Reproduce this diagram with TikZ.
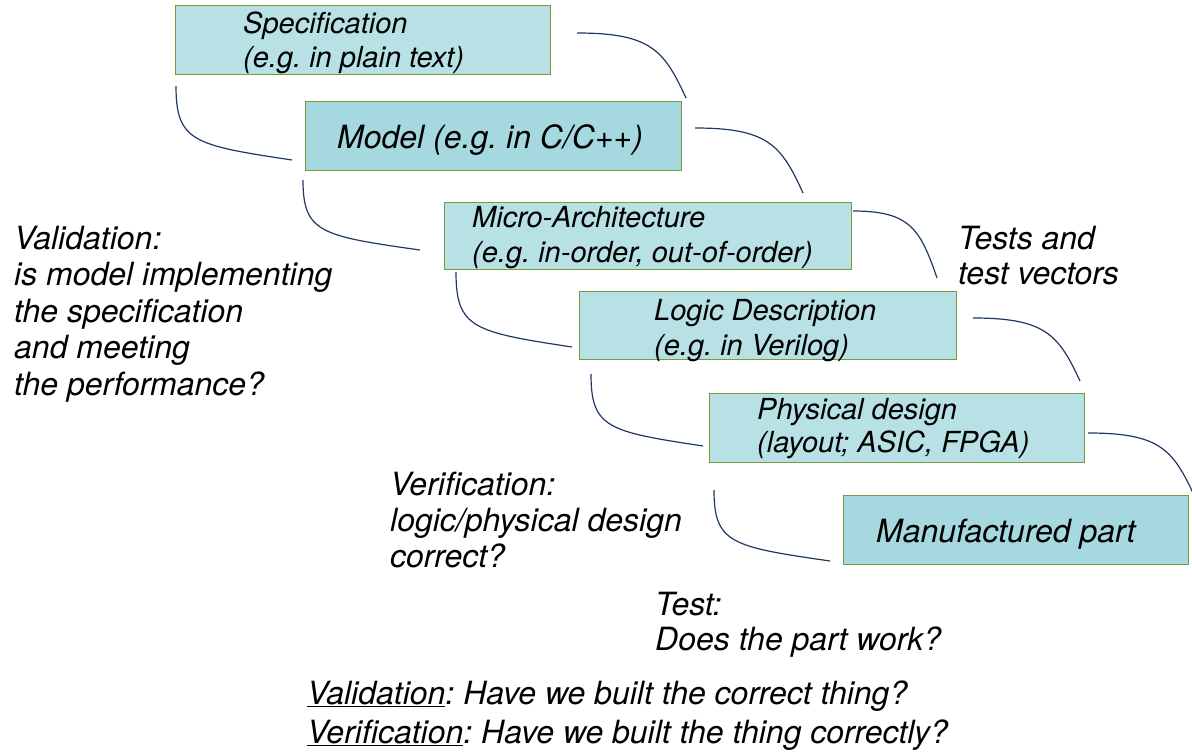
\documentclass[tikz,border=0pt]{standalone}
\usepackage{fontspec}
\setmainfont{TeX Gyre Heros}
\usetikzlibrary{calc}
\definecolor{boxfill}{HTML}{B7E1E5}
\definecolor{boxdark}{HTML}{A6D8DF}
\definecolor{boxedge}{HTML}{7A9A3C}
\definecolor{curvecol}{HTML}{203864}
\tikzset{
  stagebox/.style={draw=boxedge, line width=1.3pt, fill=boxfill, anchor=north west, inner sep=0pt},
  darkbox/.style={stagebox, fill=boxdark},
  boxtxt/.style={anchor=base west, inner sep=0pt, align=left, font=\fontsize{29}{33}\selectfont\itshape},
  bigtxt/.style={anchor=base west, inner sep=0pt, align=left, font=\fontsize{32}{36}\selectfont\itshape},
  link/.style={draw=curvecol, line width=1.2pt},
}
\begin{document}
\frenchspacing
\begin{tikzpicture}[x=1pt,y=-1pt]
\useasboundingbox (0,0) rectangle (1192,752);
% boxes
\node[stagebox, minimum width=375pt, minimum height=69pt] (spec) at (175,5) {};
\node[darkbox, minimum width=376pt, minimum height=69pt] (model) at (305,101) {};
\node[stagebox, minimum width=407pt, minimum height=67pt] (micro) at (444,202) {};
\node[stagebox, minimum width=377pt, minimum height=68pt] (logic) at (579,291) {};
\node[stagebox, minimum width=375pt, minimum height=69pt] (phys) at (709,393) {};
\node[darkbox, minimum width=345pt, minimum height=69pt] (manuf) at (843,495) {};
% box texts (anchor = baseline of last line)
\node[boxtxt] (specT) at (243,67) {Specification\\(e.g. in plain text)};
\node[bigtxt] (modelT) at (337,148) {Model (e.g. in C/C++)};
\node[boxtxt, font=\fontsize{29}{35}\selectfont\itshape] (microT) at (472,262) {Micro-Architecture\\(e.g. in-order, out-of-order)};
\node[boxtxt, font=\fontsize{29}{35}\selectfont\itshape] (logicT) at (654,355) {Logic Description\\(e.g. in Verilog)};
\node[boxtxt] (physT) at (757,452) {Physical design\\(layout; ASIC, FPGA)};
\node[bigtxt] (manufT) at (876,542) {Manufactured part};
% free texts
\node[bigtxt, font=\fontsize{32}{36.5}\selectfont\itshape] (valT) at (14,395) {Validation:\\is model implementing\\the specification\\and meeting\\the performance?};
\node[bigtxt, font=\fontsize{32}{35}\selectfont\itshape] (testsT) at (958,284) {Tests and\\test vectors};
\node[bigtxt] (verT) at (390,567) {Verification:\\logic/physical design\\correct?};
\node[bigtxt, font=\fontsize{32}{35}\selectfont\itshape] (testT) at (655,650) {Test:\\Does the part work?};
\node[bigtxt, font=\fontsize{32}{39}\selectfont\itshape] (defT) at (307,743) {\underline{Validation}: Have we built the correct thing?\\\underline{Verification}: Have we built the thing correctly?};
% connector end points
\coordinate (r1a) at (577,33);   \coordinate (r1b) at (686,98);
\coordinate (r2a) at (695,128);  \coordinate (r2b) at (803,193);
\coordinate (r3a) at (853,211);  \coordinate (r3b) at (937,278);
\coordinate (r4a) at (973,318);  \coordinate (r4b) at (1080,381);
\coordinate (r5a) at (1088,433); \coordinate (r5b) at (1194,495);
\coordinate (l1a) at (176,86);   \coordinate (l1b) at (292,160);
\coordinate (l2a) at (303,180);  \coordinate (l2b) at (420,250);
\coordinate (l3a) at (456,272);  \coordinate (l3b) at (572,347);
\coordinate (l4a) at (591,374);  \coordinate (l4b) at (703,446);
\coordinate (l5a) at (714,490);  \coordinate (l5b) at (830,561);
% right links
\foreach \a/\b in {r1a/r1b,r2a/r2b,r3a/r3b,r4a/r4b,r5a/r5b}{
  \draw[link] let \p1=(\a), \p2=(\b) in
    (\a) .. controls (\x1+0.68*\x2-0.68*\x1,\y1) and (\x1+0.8*\x2-0.8*\x1,\y1+0.27*\y2-0.27*\y1) .. (\b);
}
% left links
\foreach \a/\b in {l1a/l1b,l2a/l2b,l3a/l3b,l4a/l4b,l5a/l5b}{
  \draw[link] let \p1=(\a), \p2=(\b) in
    (\a) .. controls (\x1,\y1+0.75*\y2-0.75*\y1) and (\x1+0.15*\x2-0.15*\x1,\y1+0.8*\y2-0.8*\y1) .. (\b);
}
\end{tikzpicture}
\end{document}
